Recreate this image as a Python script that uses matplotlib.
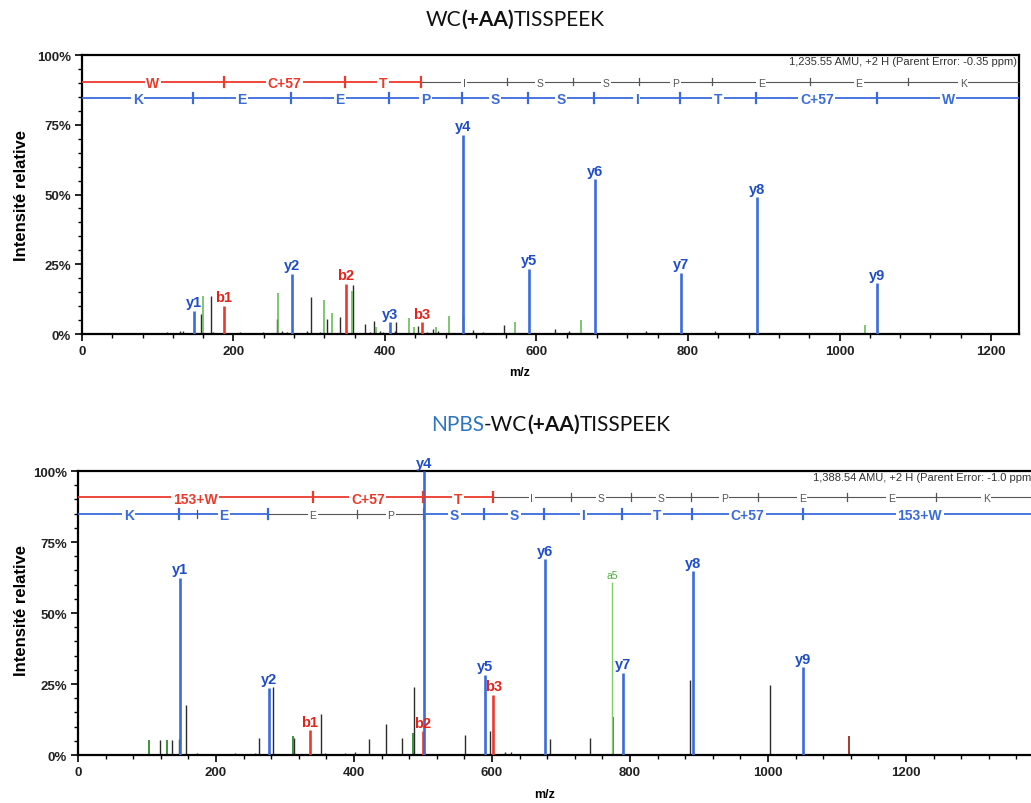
import numpy as np
import matplotlib.pyplot as plt
from matplotlib.ticker import MultipleLocator, FuncFormatter

plt.rcParams['font.family'] = ['Liberation Sans', 'DejaVu Sans']

# ---------------- top spectrum : WC(+AA)TISSPEEK ----------------
top_y_mz = [148, 277, 406, 502.5, 590.6, 677, 791, 891, 1050]
top_y_int = [8.4, 21.6, 4.3, 71.5, 23.4, 55.5, 22.0, 49.0, 18.3]
top_y_lab = ['y1', 'y2', 'y3', 'y4', 'y5', 'y6', 'y7', 'y8', 'y9']
top_b_mz = [187.5, 348.5, 449]
top_b_int = [10.2, 18.0, 4.3]
top_b_lab = ['b1', 'b2', 'b3']
top_g_mz = [160, 259, 319, 330, 356, 388, 432, 438, 467, 484, 572, 659, 1034]
top_g_int = [13.7, 14.7, 12.3, 7.5, 15.6, 2.5, 5.8, 2.5, 2.5, 6.5, 4.3, 5.0, 3.3]
top_k_mz = [157, 170, 257, 302, 323, 340.6, 358, 374, 386, 415, 444, 463, 503,
            516, 557, 624, 643, 745, 836,
            112, 129, 133, 172.5, 208.6, 226, 239, 250, 263.6, 270, 296.6, 314,
            380, 393, 397, 413, 455, 470, 529.6]
top_k_int = [7.0, 13.7, 5.4, 13.3, 5.4, 6.2, 17.4, 3.6, 4.8, 4.3, 2.9, 1.8, 6.8,
             1.5, 3.2, 1.8, 1.0, 1.0, 1.0,
             0.8, 1.2, 1.0, 0.6, 0.6, 0.5, 0.6, 0.5, 1.0, 0.8, 1.2, 0.7,
             0.8, 1.0, 0.9, 1.2, 0.8, 1.0, 0.8]
top_xmax = 1237
top_info = '1,235.55 AMU, +2 H (Parent Error: -0.35 ppm)'

top_b_res = ['W', 'C+57', 'T', 'I', 'S', 'S', 'P', 'E', 'E', 'K']
top_b_cuts = [187, 347, 448, 561, 648, 735, 832, 961, 1090]
top_b_seg = [1, 1, 1, 0, 0, 0, 0, 0, 0, 0]
top_b_tick = [1, 1, 1, 0, 0, 0, 0, 0, 0]
top_yr_res = ['K', 'E', 'E', 'P', 'S', 'S', 'I', 'T', 'C+57', 'W']
top_yr_cuts = [147, 276, 405, 502, 589, 676, 789, 890, 1050]
top_yr_seg = [1, 1, 1, 1, 1, 1, 1, 1, 1, 1]
top_yr_tick = [1, 1, 1, 1, 1, 1, 1, 1, 1]

# ---------------- bottom spectrum : NPBS-WC(+AA)TISSPEEK ----------------
bot_y_mz = [147.8, 276.7, 502, 589.8, 676.7, 789.7, 891, 1051]
bot_y_int = [62.5, 23.7, 100, 28.3, 69.0, 29.0, 64.7, 30.9]
bot_y_lab = ['y1', 'y2', 'y4', 'y5', 'y6', 'y7', 'y8', 'y9']
bot_b_mz = [336, 500, 601.8]
bot_b_int = [8.8, 8.3, 21.3]
bot_b_lab = ['b1', 'b2', 'b3']
bot_g_mz = [103, 128.5, 311.7, 485, 775]
bot_g_int = [5.3, 5.3, 6.7, 7.9, 13.3]
bot_a_mz = [773.8]
bot_a_int = [61.0]
bot_a_lab = ['a5']
bot_k_mz = [119, 135.7, 146, 156.5, 262, 283, 313, 352, 401, 421, 446, 469, 486.4,
            561, 597, 619, 628, 683.6, 741.5, 886.8, 1002.7,
            172, 186, 203, 227.5, 256.5, 358, 387]
bot_k_int = [5.3, 5.3, 5.6, 17.7, 6.1, 23.8, 6.0, 14.5, 1.0, 5.6, 11.0, 6.1, 24.0,
             7.0, 8.4, 1.0, 1.0, 5.5, 5.9, 26.3, 24.5,
             0.6, 0.5, 0.5, 0.6, 0.6, 0.6, 0.8]
bot_r_mz = [1117]
bot_r_int = [6.8]
bot_xmax = 1389
bot_info = '1,388.54 AMU, +2 H (Parent Error: -1.0 ppm)'

bot_b_res = ['153+W', 'C+57', 'T', 'I', 'S', 'S', 'P', 'E', 'E', 'K']
bot_b_cuts = [340, 500, 601, 714, 801, 888, 985, 1114, 1243]
bot_b_seg = [1, 1, 1, 0, 0, 0, 0, 0, 0, 0]
bot_b_tick = [1, 1, 1, 0, 0, 0, 0, 0, 0]
bot_yr_res = ['K', 'E', 'E', 'P', 'S', 'S', 'I', 'T', 'C+57', '153+W']
bot_yr_cuts = [147, 276, 405, 502, 589, 676, 789, 890, 1051]
bot_yr_seg = [1, 1, 0, 0, 1, 1, 1, 1, 1, 1]
bot_yr_tick = [1, 1, 0, 1, 1, 1, 1, 1, 1]
bot_yr_extra = [173]

BLUE = '#3b6bdb'
BLUE_TXT = '#1f4cc8'
RED = '#ea3a2c'
RED_TXT = '#e2241b'
GREEN = '#5cb84a'
DGREEN = '#2f8a2f'
LGREEN = '#7fcf6a'
BLACK = '#2b2b2b'
GREY = '#555555'


def draw_seq(ax, level, res, cuts, seg_on, tick_on, color, xmax, extra=()):
    bounds = [0] + list(cuts) + [xmax]
    for i, r in enumerate(res):
        x0, x1 = bounds[i], bounds[i + 1]
        if seg_on[i]:
            ax.plot([x0, x1], [level, level], color=color, lw=1.3, zorder=3,
                    solid_capstyle='butt', clip_on=False)
            ax.text((x0 + x1) / 2, level, r, color=color, fontsize=10,
                    fontweight='bold', ha='center', va='center_baseline',
                    bbox=dict(fc='white', ec='none', pad=1.2), zorder=4)
        else:
            ax.plot([x0, x1], [level, level], color=GREY, lw=0.8, zorder=3,
                    solid_capstyle='butt', clip_on=False)
            ax.text((x0 + x1) / 2, level, r, color=GREY, fontsize=7.5,
                    ha='center', va='center_baseline',
                    bbox=dict(fc='white', ec='none', pad=1.2), zorder=4)
    for x, on in zip(cuts, tick_on):
        if on:
            ax.plot([x, x], [level - 1.8, level + 1.8], color=color, lw=1.6, zorder=5)
        else:
            ax.plot([x, x], [level - 1.4, level + 1.4], color=GREY, lw=0.9, zorder=5)
    for x in extra:
        ax.plot([x, x], [level - 1.4, level + 1.4], color=GREY, lw=0.9, zorder=5)


def peaks(ax, mz, inten, color, lw, z):
    ax.vlines(mz, 0, inten, colors=color, lw=lw, zorder=z)


def labels(ax, mz, inten, labs, color, size=10.5, bold=True):
    for x, h, s in zip(mz, inten, labs):
        ax.annotate(s, (x, h), xytext=(0, 1), textcoords='offset points',
                    ha='center', va='bottom', color=color, fontsize=size,
                    fontweight='bold' if bold else 'normal', clip_on=False,
                    annotation_clip=False, zorder=6)


def style_axes(ax, xmax, right_spine=True):
    ax.set_xlim(0, xmax)
    ax.set_ylim(0, 100)
    ax.xaxis.set_major_locator(MultipleLocator(200))
    ax.xaxis.set_minor_locator(MultipleLocator(40))
    ax.yaxis.set_major_locator(MultipleLocator(25))
    ax.yaxis.set_minor_locator(MultipleLocator(5))
    ax.yaxis.set_major_formatter(FuncFormatter(lambda v, p: f'{int(v)}%'))
    ax.tick_params(which='major', length=5, width=1.2, direction='out',
                   labelsize=9.5, pad=3)
    ax.tick_params(which='minor', length=3, width=1.0, direction='out')
    for lab in ax.get_xticklabels() + ax.get_yticklabels():
        lab.set_fontweight('bold')
        lab.set_color('#222222')
    for sp in ax.spines.values():
        sp.set_linewidth(1.6)
    ax.spines['right'].set_visible(right_spine)


fig = plt.figure(figsize=(10.31, 8.04), dpi=100)

# top panel
ax1 = fig.add_axes([0.0795, 0.5833, 0.9089, 0.3470])
peaks(ax1, top_k_mz, top_k_int, BLACK, 1.0, 2)
peaks(ax1, top_g_mz, top_g_int, GREEN, 1.1, 2)
peaks(ax1, top_b_mz, top_b_int, RED, 1.9, 3)
peaks(ax1, top_y_mz, top_y_int, BLUE, 1.9, 3)
labels(ax1, top_y_mz, top_y_int, top_y_lab, BLUE_TXT)
labels(ax1, top_b_mz, top_b_int, top_b_lab, RED_TXT)
draw_seq(ax1, 90.5, top_b_res, top_b_cuts, top_b_seg, top_b_tick, RED, top_xmax)
draw_seq(ax1, 84.7, top_yr_res, top_yr_cuts, top_yr_seg, top_yr_tick, BLUE, top_xmax)
ax1.text(0.998, 0.978, top_info, transform=ax1.transAxes, ha='right', va='center',
         fontsize=8, color='#333333')
style_axes(ax1, top_xmax)

# bottom panel
ax2 = fig.add_axes([0.0757, 0.0597, 0.9296, 0.3532])
peaks(ax2, bot_k_mz, bot_k_int, BLACK, 1.0, 2)
peaks(ax2, bot_g_mz, bot_g_int, DGREEN, 1.3, 2)
peaks(ax2, bot_a_mz, bot_a_int, LGREEN, 1.0, 2)
peaks(ax2, bot_r_mz, bot_r_int, '#a02a1e', 1.3, 2)
peaks(ax2, bot_b_mz, bot_b_int, RED, 1.9, 3)
peaks(ax2, bot_y_mz, bot_y_int, BLUE, 1.9, 3)
labels(ax2, bot_y_mz, bot_y_int, bot_y_lab, BLUE_TXT)
labels(ax2, bot_b_mz, bot_b_int, bot_b_lab, RED_TXT)
labels(ax2, bot_a_mz, bot_a_int, bot_a_lab, '#4caf3c', size=7.5, bold=False)
draw_seq(ax2, 90.8, bot_b_res, bot_b_cuts, bot_b_seg, bot_b_tick, RED, bot_xmax)
draw_seq(ax2, 85.0, bot_yr_res, bot_yr_cuts, bot_yr_seg, bot_yr_tick, BLUE, bot_xmax,
         bot_yr_extra)
ax2.text(0.998, 0.978, bot_info, transform=ax2.transAxes, ha='right', va='center',
         fontsize=8, color='#333333')
style_axes(ax2, bot_xmax, right_spine=False)

# axis titles
for yc in (0.757, 0.241):
    fig.text(0.0204, yc, 'Intensité relative', rotation=90, ha='center', va='center',
             fontsize=12, fontweight='bold')
fig.text(520 / 1031, 1 - 373 / 804, 'm/z', ha='center', va='center', fontsize=9,
         fontweight='bold')
fig.text(545 / 1031, 1 - 795 / 804, 'm/z', ha='center', va='center', fontsize=9,
         fontweight='bold')


def rich_title(xc, yc, parts, size=15):
    r = fig.canvas.get_renderer()
    texts = [fig.text(0, yc, s, color=c, fontweight=w, fontsize=size,
                      family=['Lato', 'DejaVu Sans'], va='center', ha='left')
             for s, c, w in parts]
    widths = [t.get_window_extent(r).width for t in texts]
    x = xc * fig.bbox.width - sum(widths) / 2
    for t, w in zip(texts, widths):
        t.set_x(x / fig.bbox.width)
        x += w


rich_title(515 / 1031, 1 - 20 / 804,
           [('WC', '#111111', 'normal'), ('(+AA)', '#111111', 'bold'),
            ('TISSPEEK', '#111111', 'normal')])
rich_title(551 / 1031, 1 - 425 / 804,
           [('NPBS', '#2e75c0', 'normal'), ('-WC', '#111111', 'normal'),
            ('(+AA)', '#111111', 'bold'), ('TISSPEEK', '#111111', 'normal')])

fig.savefig('out.png', dpi=100)
